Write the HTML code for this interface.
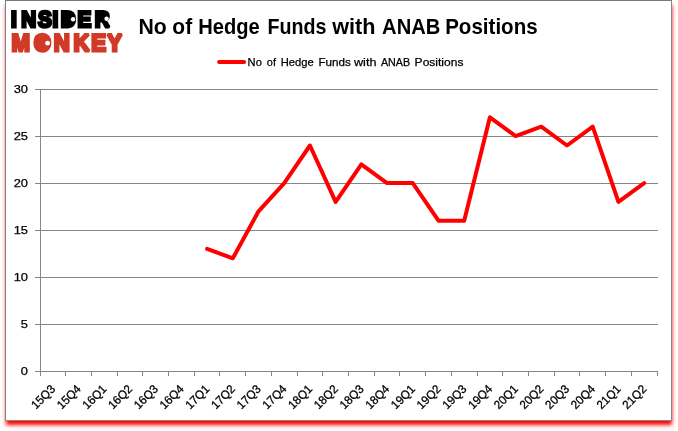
<!DOCTYPE html>
<html><head><meta charset="utf-8"><title>No of Hedge Funds with ANAB Positions</title>
<style>
html,body{margin:0;padding:0;background:#fff;width:678px;height:431px;overflow:hidden}
#frame{position:absolute;left:5px;top:0px;width:665px;height:419px;border:1px solid;border-color:#7a7a7a #7b8b8b #7b8b8b #7f7f7f;background:#fff;box-shadow:0.5px 4.5px 4px -0.5px #ff0000}
svg{position:absolute;left:0;top:0}
text{font-family:"Liberation Sans",Arial,sans-serif}
</style></head><body>
<div id="frame"></div>
<svg width="678" height="431" viewBox="0 0 678 431">

<text transform="translate(0,27.20) scale(0.9118,1)" x="12.20 23.35 41.80 57.50 66.66 85.07 103.87" y="0" font-size="22.67" font-weight="bold" fill="#000" stroke="#000" stroke-width="2.93" stroke-linejoin="miter" stroke-miterlimit="2" text-rendering="geometricPrecision">INSIDER</text>
<text transform="translate(0,50.80) scale(0.9172,1)" x="12.41 36.75 58.62 80.05 99.50 117.05" y="0" font-size="24.13" font-weight="bold" fill="#d13a26" stroke="#d13a26" stroke-width="2.92" stroke-linejoin="miter" stroke-miterlimit="2" text-rendering="geometricPrecision">MONKEY</text>
<g>
<rect x="65.3" y="14.2" width="5.6" height="10" fill="#000"/><circle cx="73.1" cy="19.2" r="2.2" fill="#fff"/>
<rect x="99.2" y="14.5" width="5.6" height="4" fill="#000"/><circle cx="106.6" cy="18.8" r="2.2" fill="#fff"/>
<ellipse cx="42.5" cy="42.4" rx="4.3" ry="5.3" fill="#d13a26"/><circle cx="47.6" cy="43.2" r="2.4" fill="#fff"/>
</g>
<text y="33.5" font-size="22" font-weight="bold" fill="#000"><tspan x="138.52" textLength="28.34" lengthAdjust="spacingAndGlyphs">No</tspan> <tspan x="172.37" textLength="19.79" lengthAdjust="spacingAndGlyphs">of</tspan> <tspan x="198.29" textLength="61.54" lengthAdjust="spacingAndGlyphs">Hedge</tspan> <tspan x="267.42" textLength="58.99" lengthAdjust="spacingAndGlyphs">Funds</tspan> <tspan x="332.21" textLength="43.21" lengthAdjust="spacingAndGlyphs">with</tspan> <tspan x="382.10" textLength="58.25" lengthAdjust="spacingAndGlyphs">ANAB</tspan> <tspan x="445.16" textLength="92.48" lengthAdjust="spacingAndGlyphs">Positions</tspan></text>
<line x1="219.1" y1="61.9" x2="244.1" y2="61.9" stroke="#ff0000" stroke-width="4" stroke-linecap="round"/>
<text y="66" font-size="11.3" font-weight="normal" fill="#000" stroke="#000" stroke-width="0.25"><tspan x="247.61" textLength="14.25" lengthAdjust="spacingAndGlyphs">No</tspan> <tspan x="266.86" textLength="9.11" lengthAdjust="spacingAndGlyphs">of</tspan> <tspan x="280.81" textLength="32.95" lengthAdjust="spacingAndGlyphs">Hedge</tspan> <tspan x="318.47" textLength="32.44" lengthAdjust="spacingAndGlyphs">Funds</tspan> <tspan x="353.96" textLength="22.51" lengthAdjust="spacingAndGlyphs">with</tspan> <tspan x="380.90" textLength="29.16" lengthAdjust="spacingAndGlyphs">ANAB</tspan> <tspan x="414.64" textLength="48.78" lengthAdjust="spacingAndGlyphs">Positions</tspan></text>
<line x1="35" y1="89.50" x2="658.00" y2="89.50" stroke="#868686" stroke-width="1"/>
<line x1="35" y1="136.50" x2="658.00" y2="136.50" stroke="#868686" stroke-width="1"/>
<line x1="35" y1="183.50" x2="658.00" y2="183.50" stroke="#868686" stroke-width="1"/>
<line x1="35" y1="230.50" x2="658.00" y2="230.50" stroke="#868686" stroke-width="1"/>
<line x1="35" y1="277.50" x2="658.00" y2="277.50" stroke="#868686" stroke-width="1"/>
<line x1="35" y1="324.50" x2="658.00" y2="324.50" stroke="#868686" stroke-width="1"/>
<line x1="35" y1="371.50" x2="658.00" y2="371.50" stroke="#868686" stroke-width="1"/>
<line x1="40.5" y1="89.5" x2="40.5" y2="376.0" stroke="#868686" stroke-width="1"/>
<line x1="65.5" y1="371.5" x2="65.5" y2="376.0" stroke="#868686" stroke-width="1"/>
<line x1="91.5" y1="371.5" x2="91.5" y2="376.0" stroke="#868686" stroke-width="1"/>
<line x1="117.5" y1="371.5" x2="117.5" y2="376.0" stroke="#868686" stroke-width="1"/>
<line x1="142.5" y1="371.5" x2="142.5" y2="376.0" stroke="#868686" stroke-width="1"/>
<line x1="168.5" y1="371.5" x2="168.5" y2="376.0" stroke="#868686" stroke-width="1"/>
<line x1="194.5" y1="371.5" x2="194.5" y2="376.0" stroke="#868686" stroke-width="1"/>
<line x1="219.5" y1="371.5" x2="219.5" y2="376.0" stroke="#868686" stroke-width="1"/>
<line x1="245.5" y1="371.5" x2="245.5" y2="376.0" stroke="#868686" stroke-width="1"/>
<line x1="271.5" y1="371.5" x2="271.5" y2="376.0" stroke="#868686" stroke-width="1"/>
<line x1="297.5" y1="371.5" x2="297.5" y2="376.0" stroke="#868686" stroke-width="1"/>
<line x1="322.5" y1="371.5" x2="322.5" y2="376.0" stroke="#868686" stroke-width="1"/>
<line x1="348.5" y1="371.5" x2="348.5" y2="376.0" stroke="#868686" stroke-width="1"/>
<line x1="374.5" y1="371.5" x2="374.5" y2="376.0" stroke="#868686" stroke-width="1"/>
<line x1="399.5" y1="371.5" x2="399.5" y2="376.0" stroke="#868686" stroke-width="1"/>
<line x1="425.5" y1="371.5" x2="425.5" y2="376.0" stroke="#868686" stroke-width="1"/>
<line x1="451.5" y1="371.5" x2="451.5" y2="376.0" stroke="#868686" stroke-width="1"/>
<line x1="477.5" y1="371.5" x2="477.5" y2="376.0" stroke="#868686" stroke-width="1"/>
<line x1="502.5" y1="371.5" x2="502.5" y2="376.0" stroke="#868686" stroke-width="1"/>
<line x1="528.5" y1="371.5" x2="528.5" y2="376.0" stroke="#868686" stroke-width="1"/>
<line x1="554.5" y1="371.5" x2="554.5" y2="376.0" stroke="#868686" stroke-width="1"/>
<line x1="579.5" y1="371.5" x2="579.5" y2="376.0" stroke="#868686" stroke-width="1"/>
<line x1="605.5" y1="371.5" x2="605.5" y2="376.0" stroke="#868686" stroke-width="1"/>
<line x1="631.5" y1="371.5" x2="631.5" y2="376.0" stroke="#868686" stroke-width="1"/>
<line x1="657.5" y1="371.5" x2="657.5" y2="376.0" stroke="#868686" stroke-width="1"/>
<text x="28.0" y="92.50" font-size="11.2" text-anchor="end" fill="#000" stroke="#000" stroke-width="0.25" textLength="14.30" lengthAdjust="spacingAndGlyphs">30</text>
<text x="28.0" y="139.50" font-size="11.2" text-anchor="end" fill="#000" stroke="#000" stroke-width="0.25" textLength="14.30" lengthAdjust="spacingAndGlyphs">25</text>
<text x="28.0" y="186.50" font-size="11.2" text-anchor="end" fill="#000" stroke="#000" stroke-width="0.25" textLength="14.30" lengthAdjust="spacingAndGlyphs">20</text>
<text x="28.0" y="233.50" font-size="11.2" text-anchor="end" fill="#000" stroke="#000" stroke-width="0.25" textLength="14.30" lengthAdjust="spacingAndGlyphs">15</text>
<text x="28.0" y="280.50" font-size="11.2" text-anchor="end" fill="#000" stroke="#000" stroke-width="0.25" textLength="14.30" lengthAdjust="spacingAndGlyphs">10</text>
<text x="28.0" y="327.50" font-size="11.2" text-anchor="end" fill="#000" stroke="#000" stroke-width="0.25" textLength="7.15" lengthAdjust="spacingAndGlyphs">5</text>
<text x="28.0" y="374.50" font-size="11.2" text-anchor="end" fill="#000" stroke="#000" stroke-width="0.25" textLength="7.15" lengthAdjust="spacingAndGlyphs">0</text>
<text transform="translate(55.95,389.8) rotate(-45)" x="0" y="0" font-size="12" text-anchor="end" fill="#000" stroke="#000" stroke-width="0.3" textLength="28.3" lengthAdjust="spacingAndGlyphs">15Q3</text>
<text transform="translate(81.66,389.8) rotate(-45)" x="0" y="0" font-size="12" text-anchor="end" fill="#000" stroke="#000" stroke-width="0.3" textLength="28.3" lengthAdjust="spacingAndGlyphs">15Q4</text>
<text transform="translate(107.37,389.8) rotate(-45)" x="0" y="0" font-size="12" text-anchor="end" fill="#000" stroke="#000" stroke-width="0.3" textLength="28.3" lengthAdjust="spacingAndGlyphs">16Q1</text>
<text transform="translate(133.08,389.8) rotate(-45)" x="0" y="0" font-size="12" text-anchor="end" fill="#000" stroke="#000" stroke-width="0.3" textLength="28.3" lengthAdjust="spacingAndGlyphs">16Q2</text>
<text transform="translate(158.79,389.8) rotate(-45)" x="0" y="0" font-size="12" text-anchor="end" fill="#000" stroke="#000" stroke-width="0.3" textLength="28.3" lengthAdjust="spacingAndGlyphs">16Q3</text>
<text transform="translate(184.50,389.8) rotate(-45)" x="0" y="0" font-size="12" text-anchor="end" fill="#000" stroke="#000" stroke-width="0.3" textLength="28.3" lengthAdjust="spacingAndGlyphs">16Q4</text>
<text transform="translate(210.20,389.8) rotate(-45)" x="0" y="0" font-size="12" text-anchor="end" fill="#000" stroke="#000" stroke-width="0.3" textLength="28.3" lengthAdjust="spacingAndGlyphs">17Q1</text>
<text transform="translate(235.91,389.8) rotate(-45)" x="0" y="0" font-size="12" text-anchor="end" fill="#000" stroke="#000" stroke-width="0.3" textLength="28.3" lengthAdjust="spacingAndGlyphs">17Q2</text>
<text transform="translate(261.62,389.8) rotate(-45)" x="0" y="0" font-size="12" text-anchor="end" fill="#000" stroke="#000" stroke-width="0.3" textLength="28.3" lengthAdjust="spacingAndGlyphs">17Q3</text>
<text transform="translate(287.33,389.8) rotate(-45)" x="0" y="0" font-size="12" text-anchor="end" fill="#000" stroke="#000" stroke-width="0.3" textLength="28.3" lengthAdjust="spacingAndGlyphs">17Q4</text>
<text transform="translate(313.04,389.8) rotate(-45)" x="0" y="0" font-size="12" text-anchor="end" fill="#000" stroke="#000" stroke-width="0.3" textLength="28.3" lengthAdjust="spacingAndGlyphs">18Q1</text>
<text transform="translate(338.75,389.8) rotate(-45)" x="0" y="0" font-size="12" text-anchor="end" fill="#000" stroke="#000" stroke-width="0.3" textLength="28.3" lengthAdjust="spacingAndGlyphs">18Q2</text>
<text transform="translate(364.45,389.8) rotate(-45)" x="0" y="0" font-size="12" text-anchor="end" fill="#000" stroke="#000" stroke-width="0.3" textLength="28.3" lengthAdjust="spacingAndGlyphs">18Q3</text>
<text transform="translate(390.16,389.8) rotate(-45)" x="0" y="0" font-size="12" text-anchor="end" fill="#000" stroke="#000" stroke-width="0.3" textLength="28.3" lengthAdjust="spacingAndGlyphs">18Q4</text>
<text transform="translate(415.87,389.8) rotate(-45)" x="0" y="0" font-size="12" text-anchor="end" fill="#000" stroke="#000" stroke-width="0.3" textLength="28.3" lengthAdjust="spacingAndGlyphs">19Q1</text>
<text transform="translate(441.58,389.8) rotate(-45)" x="0" y="0" font-size="12" text-anchor="end" fill="#000" stroke="#000" stroke-width="0.3" textLength="28.3" lengthAdjust="spacingAndGlyphs">19Q2</text>
<text transform="translate(467.29,389.8) rotate(-45)" x="0" y="0" font-size="12" text-anchor="end" fill="#000" stroke="#000" stroke-width="0.3" textLength="28.3" lengthAdjust="spacingAndGlyphs">19Q3</text>
<text transform="translate(493.00,389.8) rotate(-45)" x="0" y="0" font-size="12" text-anchor="end" fill="#000" stroke="#000" stroke-width="0.3" textLength="28.3" lengthAdjust="spacingAndGlyphs">19Q4</text>
<text transform="translate(518.70,389.8) rotate(-45)" x="0" y="0" font-size="12" text-anchor="end" fill="#000" stroke="#000" stroke-width="0.3" textLength="28.3" lengthAdjust="spacingAndGlyphs">20Q1</text>
<text transform="translate(544.41,389.8) rotate(-45)" x="0" y="0" font-size="12" text-anchor="end" fill="#000" stroke="#000" stroke-width="0.3" textLength="28.3" lengthAdjust="spacingAndGlyphs">20Q2</text>
<text transform="translate(570.12,389.8) rotate(-45)" x="0" y="0" font-size="12" text-anchor="end" fill="#000" stroke="#000" stroke-width="0.3" textLength="28.3" lengthAdjust="spacingAndGlyphs">20Q3</text>
<text transform="translate(595.83,389.8) rotate(-45)" x="0" y="0" font-size="12" text-anchor="end" fill="#000" stroke="#000" stroke-width="0.3" textLength="28.3" lengthAdjust="spacingAndGlyphs">20Q4</text>
<text transform="translate(621.54,389.8) rotate(-45)" x="0" y="0" font-size="12" text-anchor="end" fill="#000" stroke="#000" stroke-width="0.3" textLength="28.3" lengthAdjust="spacingAndGlyphs">21Q1</text>
<text transform="translate(647.25,389.8) rotate(-45)" x="0" y="0" font-size="12" text-anchor="end" fill="#000" stroke="#000" stroke-width="0.3" textLength="28.3" lengthAdjust="spacingAndGlyphs">21Q2</text>
<polyline points="207.10,248.90 232.81,258.30 258.52,211.30 284.23,183.10 309.94,145.50 335.65,201.90 361.35,164.30 387.06,183.10 412.77,183.10 438.48,220.70 464.19,220.70 489.90,117.30 515.60,136.10 541.31,126.70 567.02,145.50 592.73,126.70 618.44,201.90 644.15,183.10" fill="none" stroke="#ff0000" stroke-width="4.0" stroke-linejoin="round" stroke-linecap="round"/>
</svg>
</body></html>
